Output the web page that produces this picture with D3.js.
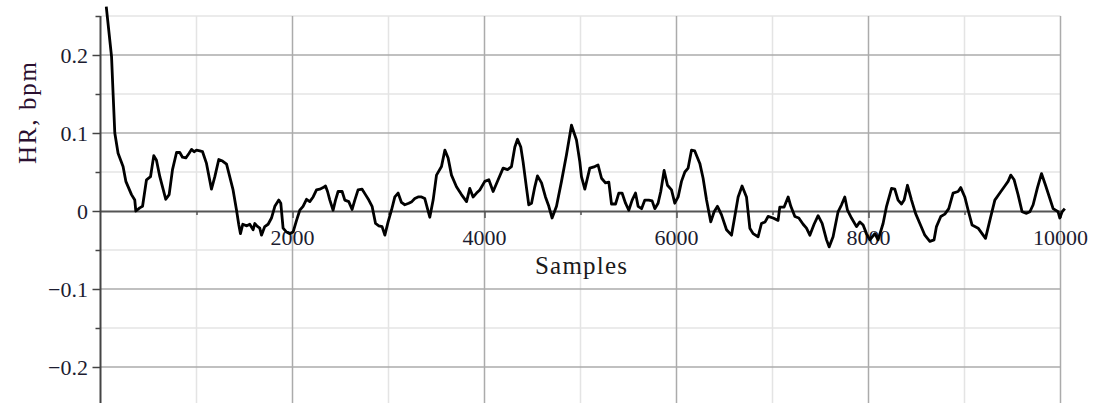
<!DOCTYPE html>
<html>
<head>
<meta charset="utf-8">
<script src="https://cdn.jsdelivr.net/npm/d3@7"></script>
<style>
  body { margin: 0; background: #fff; }
  text { font-family: "Liberation Serif", "Times New Roman", serif; }
</style>
</head>
<body>
<div id="chart"></div>
<script>
// sample index and heart-rate deviation
var samples = [60, 115, 131, 149, 183, 235, 264, 323, 357, 368, 409, 438, 479, 521, 555, 583, 618, 680, 715, 750,
  792, 826, 854, 889, 923, 948, 975, 1000, 1034, 1063, 1104, 1156, 1191, 1232, 1271, 1313, 1381, 1417, 1441, 1458,
  1482, 1524, 1555, 1590, 1607, 1628, 1659, 1677, 1711, 1746, 1781, 1816, 1857, 1878, 1902, 1938, 1972, 2006, 2042, 2076,
  2110, 2146, 2180, 2215, 2250, 2284, 2319, 2344, 2365, 2389, 2423, 2448, 2475, 2517, 2545, 2586, 2621, 2649, 2683, 2725,
  2760, 2795, 2829, 2865, 2899, 2933, 2962, 2996, 3031, 3066, 3100, 3135, 3170, 3211, 3243, 3274, 3308, 3344, 3378, 3406,
  3430, 3465, 3500, 3552, 3587, 3621, 3656, 3708, 3760, 3813, 3847, 3881, 3917, 3951, 4003, 4045, 4090, 4142, 4194, 4240,
  4281, 4316, 4344, 4378, 4402, 4438, 4461, 4490, 4524, 4552, 4594, 4635, 4670, 4704, 4750, 4802, 4854, 4906, 4958, 4993,
  5010, 5045, 5097, 5149, 5183, 5219, 5260, 5295, 5323, 5365, 5399, 5433, 5469, 5503, 5538, 5573, 5600, 5636, 5670, 5711,
  5746, 5774, 5808, 5836, 5871, 5906, 5948, 5982, 6017, 6052, 6087, 6121, 6156, 6190, 6243, 6277, 6313, 6357, 6392, 6427,
  6469, 6521, 6573, 6607, 6642, 6683, 6729, 6764, 6798, 6850, 6885, 6923, 6954, 7006, 7058, 7076, 7121, 7163, 7191, 7233,
  7274, 7319, 7354, 7389, 7433, 7475, 7517, 7563, 7590, 7631, 7683, 7719, 7753, 7781, 7823, 7875, 7910, 7944, 7979, 8014,
  8066, 8100, 8152, 8188, 8240, 8274, 8308, 8344, 8371, 8406, 8448, 8490, 8535, 8587, 8639, 8683, 8708, 8753, 8795, 8836,
  8881, 8933, 8961, 9003, 9038, 9079, 9142, 9183, 9219, 9264, 9316, 9368, 9420, 9454, 9482, 9517, 9558, 9600, 9646, 9681,
  9715, 9760, 9802, 9844, 9889, 9923, 9975, 9993, 10017, 10045];
var hr = [0.262, 0.198, 0.151, 0.100, 0.074, 0.057, 0.038, 0.021, 0.014, 0.000, 0.004, 0.006, 0.040, 0.044, 0.071, 0.065, 0.044, 0.015, 0.021, 0.053,
  0.075, 0.075, 0.069, 0.068, 0.074, 0.079, 0.076, 0.078, 0.077, 0.076, 0.061, 0.028, 0.044, 0.066, 0.064, 0.060, 0.027, 0.001, -0.018, -0.029,
  -0.017, -0.019, -0.017, -0.024, -0.016, -0.019, -0.022, -0.031, -0.020, -0.017, -0.009, 0.006, 0.014, 0.010, -0.022, -0.027, -0.029, -0.027, -0.012, 0.001,
  0.006, 0.015, 0.012, 0.018, 0.027, 0.028, 0.030, 0.032, 0.025, 0.014, 0.001, 0.014, 0.025, 0.025, 0.014, 0.012, 0.002, 0.014, 0.027, 0.028,
  0.021, 0.014, 0.006, -0.016, -0.019, -0.020, -0.031, -0.014, 0.001, 0.018, 0.023, 0.011, 0.008, 0.010, 0.012, 0.016, 0.018, 0.018, 0.016, 0.003,
  -0.008, 0.014, 0.046, 0.057, 0.078, 0.068, 0.046, 0.031, 0.021, 0.012, 0.029, 0.018, 0.023, 0.027, 0.038, 0.040, 0.025, 0.040, 0.055, 0.053,
  0.057, 0.082, 0.092, 0.082, 0.063, 0.029, 0.008, 0.010, 0.031, 0.045, 0.036, 0.018, 0.006, -0.009, 0.006, 0.038, 0.072, 0.110, 0.091, 0.063,
  0.044, 0.028, 0.055, 0.057, 0.059, 0.042, 0.036, 0.037, 0.009, 0.009, 0.023, 0.023, 0.010, 0.001, 0.014, 0.023, 0.006, 0.003, 0.014, 0.014,
  0.013, 0.003, 0.010, 0.025, 0.052, 0.033, 0.027, 0.010, 0.018, 0.038, 0.050, 0.055, 0.078, 0.077, 0.061, 0.042, 0.014, -0.014, -0.001, 0.006,
  -0.005, -0.024, -0.031, -0.007, 0.018, 0.032, 0.018, -0.022, -0.029, -0.033, -0.016, -0.014, -0.007, -0.009, -0.012, 0.005, 0.005, 0.018, 0.006, -0.007,
  -0.009, -0.017, -0.022, -0.031, -0.017, -0.006, -0.016, -0.037, -0.046, -0.033, -0.001, 0.008, 0.018, 0.001, -0.009, -0.020, -0.014, -0.018, -0.029, -0.037,
  -0.029, -0.037, -0.016, 0.006, 0.029, 0.028, 0.014, 0.009, 0.014, 0.033, 0.014, -0.003, -0.016, -0.031, -0.039, -0.037, -0.020, -0.007, -0.004, 0.003,
  0.023, 0.025, 0.030, 0.018, 0.001, -0.018, -0.022, -0.029, -0.035, -0.012, 0.014, 0.023, 0.032, 0.038, 0.046, 0.040, 0.021, -0.001, -0.003, -0.001,
  0.008, 0.030, 0.048, 0.033, 0.016, 0.003, -0.001, -0.009, -0.001, 0.003];

var xMajor = [2000, 4000, 6000, 8000, 10000];
var xMinor = [1000, 3000, 5000, 7000, 9000];
var xTickLabels = ["2000", "4000", "6000", "8000", "10000"];
var yMajor = [-0.2, -0.1, 0.1, 0.2];
var yMinor = [-0.15, -0.05, 0.05, 0.15, 0.25];
var yTickValues = [-0.2, -0.1, 0, 0.1, 0.2];
var yTickLabels = ["\u22120.2", "\u22120.1", "0", "0.1", "0.2"];

var width = 1094, height = 403;

var svg = d3.select("#chart")
    .append("svg")
    .attr("width", width)
    .attr("height", height);

var x = d3.scaleLinear()
    .domain([0, 10000])
    .range([100.5, 1060.5]);

var y = d3.scaleLinear()
    .domain([-0.25, 0.25])
    .range([406, 16]);

// grid
svg.append("g").selectAll("line")
    .data(xMinor)
    .enter().append("line")
    .attr("x1", d => x(d)).attr("x2", d => x(d))
    .attr("y1", y(0.25)).attr("y2", height)
    .attr("stroke", "#e4e4e4").attr("stroke-width", 1.5);

svg.append("g").selectAll("line")
    .data(yMinor)
    .enter().append("line")
    .attr("x1", x(0)).attr("x2", x(10000))
    .attr("y1", d => y(d)).attr("y2", d => y(d))
    .attr("stroke", "#e4e4e4").attr("stroke-width", 1.5);

svg.append("g").selectAll("line")
    .data(xMajor)
    .enter().append("line")
    .attr("x1", d => x(d)).attr("x2", d => x(d))
    .attr("y1", y(0.25)).attr("y2", height)
    .attr("stroke", "#ababab").attr("stroke-width", 1.5);

svg.append("g").selectAll("line")
    .data(yMajor)
    .enter().append("line")
    .attr("x1", x(0)).attr("x2", x(10000))
    .attr("y1", d => y(d)).attr("y2", d => y(d))
    .attr("stroke", "#ababab").attr("stroke-width", 1.5);

// x axis along zero
var xAxis = d3.axisBottom(x)
    .tickValues(xMajor.concat(xMinor))
    .tickSize(0)
    .tickFormat("");
var gx = svg.append("g")
    .attr("transform", "translate(0," + y(0) + ")")
    .call(xAxis);
gx.select(".domain").attr("stroke", "#555").attr("stroke-width", 2);
gx.selectAll(".tick line")
    .attr("y2", d => xMajor.indexOf(d) >= 0 ? 7 : 4)
    .attr("stroke", "#555").attr("stroke-width", 1.5);

svg.append("g").selectAll("text")
    .data(xMajor)
    .enter().append("text")
    .attr("x", d => x(d))
    .attr("y", y(0) + 34)
    .attr("text-anchor", "middle")
    .style("font-size", "22px")
    .style("fill", "#1c1c30")
    .text((d, i) => xTickLabels[i]);

// y axis
var yAxis = d3.axisLeft(y)
    .tickValues(yTickValues.concat(yMinor))
    .tickSize(0)
    .tickFormat("");
var gy = svg.append("g")
    .attr("transform", "translate(" + x(0) + ",0)")
    .call(yAxis);
gy.select(".domain").attr("d", "M0," + y(0.25) + "V" + height)
    .attr("stroke", "#444").attr("stroke-width", 2);
gy.selectAll(".tick line")
    .attr("x2", d => yTickValues.indexOf(d) >= 0 ? -8 : -5)
    .attr("stroke", "#444").attr("stroke-width", 1.5);

svg.append("g").selectAll("text")
    .data(yTickValues)
    .enter().append("text")
    .attr("x", 88)
    .attr("y", d => y(d))
    .attr("dy", "0.35em")
    .attr("text-anchor", "end")
    .style("font-size", "22px")
    .style("fill", "#1c1c30")
    .text((d, i) => yTickLabels[i]);

// axis titles
svg.append("text")
    .attr("x", 581)
    .attr("y", 274)
    .attr("text-anchor", "middle")
    .attr("textLength", 92)
    .attr("lengthAdjust", "spacing")
    .style("font-size", "25px")
    .style("fill", "#1a1a1a")
    .text("Samples");

svg.append("text")
    .attr("transform", "translate(36,113) rotate(-90)")
    .attr("text-anchor", "middle")
    .attr("textLength", 102)
    .attr("lengthAdjust", "spacing")
    .style("font-size", "25px")
    .style("fill", "#2b1030")
    .text("HR, bpm");

// the signal
var line = d3.line()
    .x((d, i) => x(samples[i]))
    .y(d => y(d));

svg.append("path")
    .datum(hr)
    .attr("fill", "none")
    .attr("stroke", "#000")
    .attr("stroke-width", 2.8)
    .attr("stroke-linejoin", "round")
    .attr("d", line);
</script>
</body>
</html>
